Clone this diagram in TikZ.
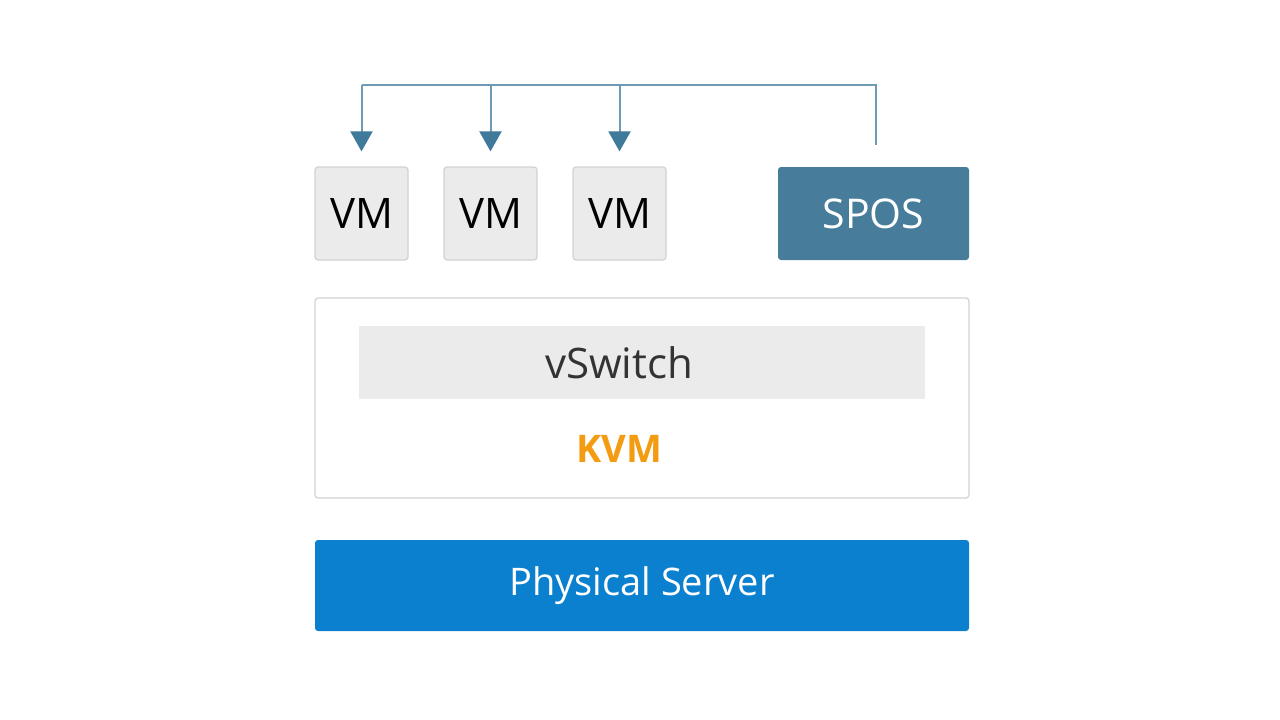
\documentclass[tikz,border=0pt]{standalone}
\usepackage{fontspec}
\setmainfont{Open Sans}
\usetikzlibrary{positioning,arrows.meta}

\definecolor{vmgray}{HTML}{EBEBEB}
\definecolor{vmedge}{HTML}{D2D2D2}
\definecolor{sposblue}{HTML}{477C9B}
\definecolor{busblue}{HTML}{6F9AB3}
\definecolor{tipblue}{HTML}{3F7A9A}
\definecolor{serverblue}{HTML}{0A80CE}
\definecolor{kvmorange}{HTML}{F39C12}
\definecolor{textgray}{HTML}{333333}

\begin{document}
\begin{tikzpicture}[x=1pt, y=-1pt,
	vmnode/.style={rectangle, rounded corners=3pt, draw=vmedge, fill=vmgray, line width=1.2pt,
		minimum width=93pt, minimum height=93pt, inner sep=0pt, font=\fontsize{42}{48}\selectfont},
	sposnode/.style={rectangle, rounded corners=3pt, fill=sposblue, text=white,
		minimum width=191pt, minimum height=93pt, inner sep=0pt, font=\fontsize{41}{48}\selectfont},
	layernode/.style={rectangle, rounded corners=3pt, draw=vmedge, fill=white, line width=1.2pt,
		minimum width=654pt, minimum height=200pt, inner sep=0pt},
	switchnode/.style={rectangle, fill=vmgray, minimum width=566pt, minimum height=73pt, inner sep=0pt},
	servernode/.style={rectangle, rounded corners=3pt, fill=serverblue, text=white,
		minimum width=654pt, minimum height=91pt, inner sep=0pt, font=\fontsize{38}{44}\selectfont},
	busline/.style={draw=busblue, line width=2pt},
	]
	\useasboundingbox (0,0) rectangle (1280,720);
	%Nodes
	\node[vmnode]   (vm1)  at (361.5,213.5)              {VM};
	\node[vmnode]   (vm2)  [right=34.8pt of vm1]         {VM};
	\node[vmnode]   (vm3)  [right=34.8pt of vm2]         {VM};
	\node[sposnode] (spos) at (873.5,213.5)              {SPOS};
	\node[layernode] (kvm) at (642,398)                  {};
	\node[switchnode] (vswitch) at (642,362.5)           {};
	\node[text=textgray, font=\fontsize{42}{48}\selectfont] (switchlabel) at (619,362.5) {vSwitch};
	\node[text=kvmorange, font=\fontsize{38}{44}\selectfont\bfseries] (kvmlabel) at (619,449) {KVM};
	\node[servernode] (server) at (642,585.5)            {Physical Server};
	\coordinate (top) at (876,85);
	
	%Lines
	\draw[busline] ([xshift=2.5pt,yshift=22pt]spos.north) -- (top) -- (vm1.north |- top);
	\foreach \v in {vm1,vm2,vm3}
		\draw[busline, -{Triangle[width=22pt,length=20pt,fill=tipblue,color=tipblue]}, shorten >=15pt] (\v.north |- top) -- (\v.north);
\end{tikzpicture}
\end{document}
